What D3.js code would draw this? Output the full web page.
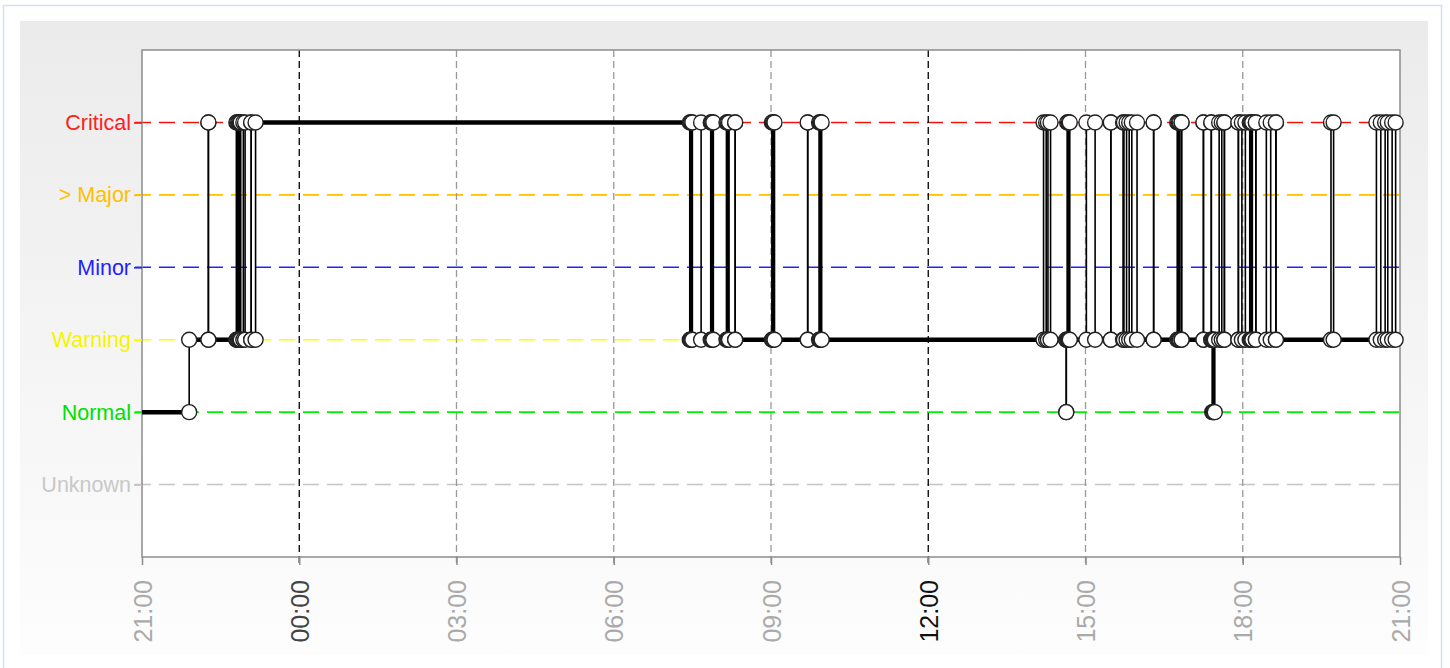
<!DOCTYPE html>
<html>
<head>
<meta charset="utf-8">
<script src="https://cdn.jsdelivr.net/npm/d3@7"></script>
<style>
body { margin: 0; background: #fff; }
text { font-family: "Liberation Sans", Arial, sans-serif; }
</style>
</head>
<body>
<script>
// states from bottom to top
const stateNames = ["Unknown", "Normal", "Warning", "Minor", "> Major", "Critical"];
const lineColors = ["#c4c4c4", "#00f000", "#ffff00", "#2222ff", "#ffc000", "#ff1010"];
const labelColors = ["#c8c8c8", "#00e000", "#f4f400", "#2222ff", "#ffc000", "#ff2020"];

const tickLabels = ["21:00", "00:00", "03:00", "06:00", "09:00", "12:00", "15:00", "18:00", "21:00"];
const darkTicks = ["00:00", "12:00"];

const startState = "Normal";
// every state change (flapping shows as a thick bar)
const changeTimes = [
  "21:54", "22:16", "22:16", "22:48", "22:49", "22:50", "22:51", "22:52", "22:53",
  "22:56", "22:58", "23:05", "23:05", "23:10",
  "07:27", "07:28", "07:29", "07:30", "07:40",
  "07:51", "07:52", "07:53", "07:54", "08:09", "08:10", "08:11", "08:12", "08:19", "08:19",
  "09:01", "09:02", "09:03", "09:04", "09:42", "09:42", "09:55", "09:56", "09:57", "09:58",
  "14:12", "14:15", "14:17", "14:20", "14:38", "14:38", "14:39", "14:40", "14:41", "14:42",
  "15:01", "15:11", "15:29", "15:29", "15:43", "15:44", "15:47", "15:50", "15:53", "15:59",
  "16:18", "16:18", "16:45", "16:46", "16:47", "16:48", "16:50", "16:50",
  "17:15", "17:15", "17:24", "17:24", "17:25", "17:26", "17:27", "17:28",
  "17:33", "17:36", "17:39", "17:39",
  "17:55", "17:55", "17:59", "18:03", "18:08", "18:09", "18:10", "18:11", "18:15", "18:15",
  "18:27", "18:32", "18:38", "18:38", "19:41", "19:44",
  "20:33", "20:38", "20:43", "20:46", "20:51", "20:55"
];
const changeStates = [
  "Warning", "Critical", "Warning", "Critical", "Warning", "Critical", "Warning", "Critical", "Warning",
  "Critical", "Warning", "Critical", "Warning", "Critical",
  "Warning", "Critical", "Warning", "Critical", "Warning",
  "Critical", "Warning", "Critical", "Warning", "Critical", "Warning", "Critical", "Warning", "Critical", "Warning",
  "Critical", "Warning", "Critical", "Warning", "Critical", "Warning", "Critical", "Warning", "Critical", "Warning",
  "Critical", "Warning", "Critical", "Warning", "Normal", "Warning", "Critical", "Warning", "Critical", "Warning",
  "Critical", "Warning", "Critical", "Warning", "Critical", "Warning", "Critical", "Warning", "Critical", "Warning",
  "Critical", "Warning", "Critical", "Warning", "Critical", "Warning", "Critical", "Warning",
  "Critical", "Warning", "Critical", "Warning", "Normal", "Warning", "Normal", "Warning",
  "Critical", "Warning", "Critical", "Warning",
  "Critical", "Warning", "Critical", "Warning", "Critical", "Warning", "Critical", "Warning", "Critical", "Warning",
  "Critical", "Warning", "Critical", "Warning", "Critical", "Warning",
  "Critical", "Warning", "Critical", "Warning", "Critical", "Warning"
];

// clock text -> date, the window runs from 21:00 to 21:00 next day
function parseClock(s, nextDay) {
  const [h, m] = s.split(":").map(Number);
  return new Date(2024, 0, (h < 21 || nextDay) ? 2 : 1, h, m);
}
const tickDates = tickLabels.map((s, i) => parseClock(s, i === tickLabels.length - 1));
const level = name => stateNames.indexOf(name) + 1;
const fmt = d3.timeFormat("%H:%M");

const W = 1450, H = 668;
const pLeft = 142, pRight = 1400, pTop = 50, pBottom = 557;

const x = d3.scaleTime()
  .domain([tickDates[0], tickDates[tickDates.length - 1]])
  .range([pLeft, pRight]);
const y = d3.scaleLinear().domain([0, 7]).range([pBottom, pTop]);

const svg = d3.select("body").append("svg")
  .attr("width", W).attr("height", H);

const grad = svg.append("defs").append("linearGradient")
  .attr("id", "bg").attr("x1", 0).attr("y1", 0).attr("x2", 0).attr("y2", 1);
grad.append("stop").attr("offset", "0%").attr("stop-color", "#ebebeb");
grad.append("stop").attr("offset", "100%").attr("stop-color", "#fdfdfd");

// page frame + grey panel
svg.append("rect").attr("x", 3.5).attr("y", 5.5).attr("width", 1438).attr("height", 700)
  .attr("fill", "#fff").attr("stroke", "#d2e2f2").attr("stroke-width", 1.5);
svg.append("rect").attr("x", 20).attr("y", 21).attr("width", 1408).attr("height", 634)
  .attr("fill", "url(#bg)");
svg.append("rect").attr("x", pLeft).attr("y", pTop).attr("width", pRight - pLeft).attr("height", pBottom - pTop)
  .attr("fill", "#fff");

// coloured dashed level lines
svg.append("g").selectAll("line")
  .data(stateNames)
  .join("line")
  .attr("x1", pLeft - 7).attr("x2", pRight)
  .attr("y1", d => y(level(d))).attr("y2", d => y(level(d)))
  .attr("stroke", (d, i) => lineColors[i])
  .attr("stroke-width", 1.6)
  .attr("stroke-dasharray", "16,8");

// vertical time grid
svg.append("g").selectAll("line")
  .data(tickDates.slice(1, -1))
  .join("line")
  .attr("x1", d => x(d)).attr("x2", d => x(d))
  .attr("y1", pTop).attr("y2", pBottom + 8)
  .attr("stroke", d => darkTicks.includes(fmt(d)) ? "#000" : "#999")
  .attr("stroke-width", 1.3)
  .attr("stroke-dasharray", "7,4");

// plot frame
svg.append("rect").attr("x", pLeft).attr("y", pTop).attr("width", pRight - pLeft).attr("height", pBottom - pTop)
  .attr("fill", "none").attr("stroke", "#8c8c8c").attr("stroke-width", 1.5);

// x axis
const xAxis = svg.append("g")
  .attr("transform", `translate(0,${pBottom})`)
  .call(d3.axisBottom(x).tickValues(tickDates).tickFormat(fmt).tickSize(8));
xAxis.select(".domain").remove();
xAxis.selectAll(".tick line").attr("stroke", "#8c8c8c").attr("stroke-width", 1.5);
xAxis.selectAll(".tick text")
  .attr("transform", "rotate(-90)")
  .attr("x", -23).attr("y", 0).attr("dy", "0.36em")
  .attr("text-anchor", "end")
  .attr("font-size", 25)
  .attr("fill", d => {
    const s = fmt(d);
    return s === "12:00" ? "#111" : s === "00:00" ? "#444" : "#aaa";
  });

// y axis
const yAxis = svg.append("g")
  .attr("transform", `translate(${pLeft},0)`)
  .call(d3.axisLeft(y).tickValues(stateNames.map(level))
    .tickFormat(v => stateNames[v - 1]).tickSize(8).tickPadding(3));
yAxis.select(".domain").remove();
yAxis.selectAll(".tick line").attr("stroke", v => lineColors[v - 1]).attr("stroke-width", 1.6);
yAxis.selectAll(".tick text")
  .attr("font-size", 21.5)
  .attr("fill", v => labelColors[v - 1]);

// state history
const events = [{ t: tickDates[0], s: startState }].concat(
  changeTimes.map((c, i) => ({ t: parseClock(c), s: changeStates[i] })));
const endDate = tickDates[tickDates.length - 1];

const spans = events.map((e, i) => ({
  t0: e.t, t1: i < events.length - 1 ? events[i + 1].t : endDate, s: e.s
}));
const steps = events.slice(1).map((e, i) => ({ t: e.t, from: events[i].s, to: e.s }));

svg.append("g").selectAll("line")
  .data(spans)
  .join("line")
  .attr("x1", d => x(d.t0)).attr("x2", d => x(d.t1))
  .attr("y1", d => y(level(d.s))).attr("y2", d => y(level(d.s)))
  .attr("stroke", "#000").attr("stroke-width", 4.5);

svg.append("g").selectAll("line")
  .data(steps)
  .join("line")
  .attr("x1", d => x(d.t)).attr("x2", d => x(d.t))
  .attr("y1", d => y(level(d.from))).attr("y2", d => y(level(d.to)))
  .attr("stroke", "#000").attr("stroke-width", 1.6);

const dots = steps.flatMap(d => [{ t: d.t, s: d.from }, { t: d.t, s: d.to }]);
svg.append("g").selectAll("circle")
  .data(dots)
  .join("circle")
  .attr("cx", d => x(d.t)).attr("cy", d => y(level(d.s)))
  .attr("r", 7.5)
  .attr("fill", "#fff").attr("stroke", "#222").attr("stroke-width", 1.4);
</script>
</body>
</html>
